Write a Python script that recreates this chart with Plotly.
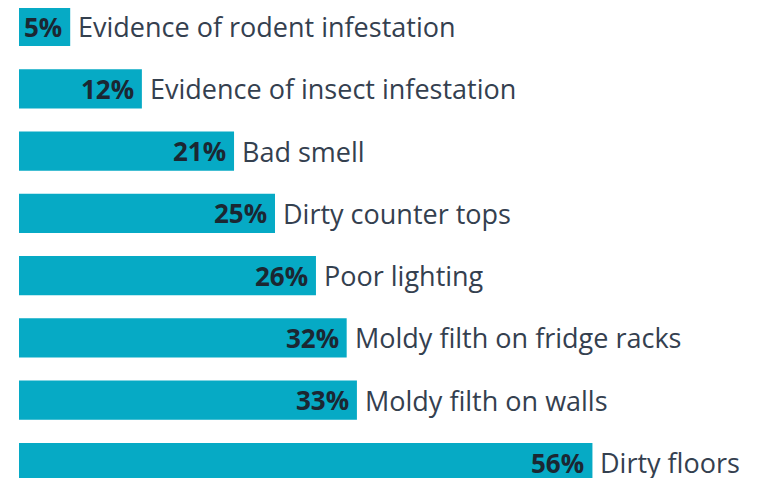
import plotly.graph_objects as go

categories = [
    "Evidence of rodent infestation",
    "Evidence of insect infestation",
    "Bad smell",
    "Dirty counter tops",
    "Poor lighting",
    "Moldy filth on fridge racks",
    "Moldy filth on walls",
    "Dirty floors",
]
# bar lengths as drawn in the picture (the "26%" bar is drawn longer)
bar_values = [5, 12, 21, 25, 29, 32, 33, 56]
pct_labels = ["5%", "12%", "21%", "25%", "26%", "32%", "33%", "56%"]

BAR_COLOR = "#06aac5"
DARK = "#1b2732"
LABEL = "#34404f"
FONT = "Open Sans"

pos = list(range(len(categories)))

# the page body adds an 8px margin, so the figure is shifted by 8px
W, H, OFF = 752, 470, 8
ROW = 62.29
FIRST = 26.5 - OFF

fig = go.Figure()
fig.add_trace(go.Bar(
    x=bar_values, y=pos, orientation="h",
    marker=dict(color=BAR_COLOR, line=dict(width=0)),
    width=0.63, hoverinfo="skip",
))

ann = []
for p, v, t, c in zip(pos, bar_values, pct_labels, categories):
    ann.append(dict(x=v, y=p, xref="x", yref="y", text="<b>" + t + "</b>",
                    showarrow=False, xanchor="right", yanchor="middle", xshift=-6,
                    font=dict(family=FONT, size=26, color=DARK)))
    ann.append(dict(x=v, y=p, xref="x", yref="y", text=c,
                    showarrow=False, xanchor="left", yanchor="middle", xshift=6,
                    font=dict(family=FONT, size=27, color=LABEL)))

fig.update_layout(
    width=W, height=H,
    margin=dict(l=19 - OFF, r=0, t=0, b=0),
    paper_bgcolor="white", plot_bgcolor="white",
    showlegend=False,
    annotations=ann,
    xaxis=dict(range=[0, (W - (19 - OFF)) / 10.24], visible=False, fixedrange=True),
    yaxis=dict(range=[(H - FIRST) / ROW, -FIRST / ROW], visible=False, fixedrange=True),
)

fig.write_html("out.html")
